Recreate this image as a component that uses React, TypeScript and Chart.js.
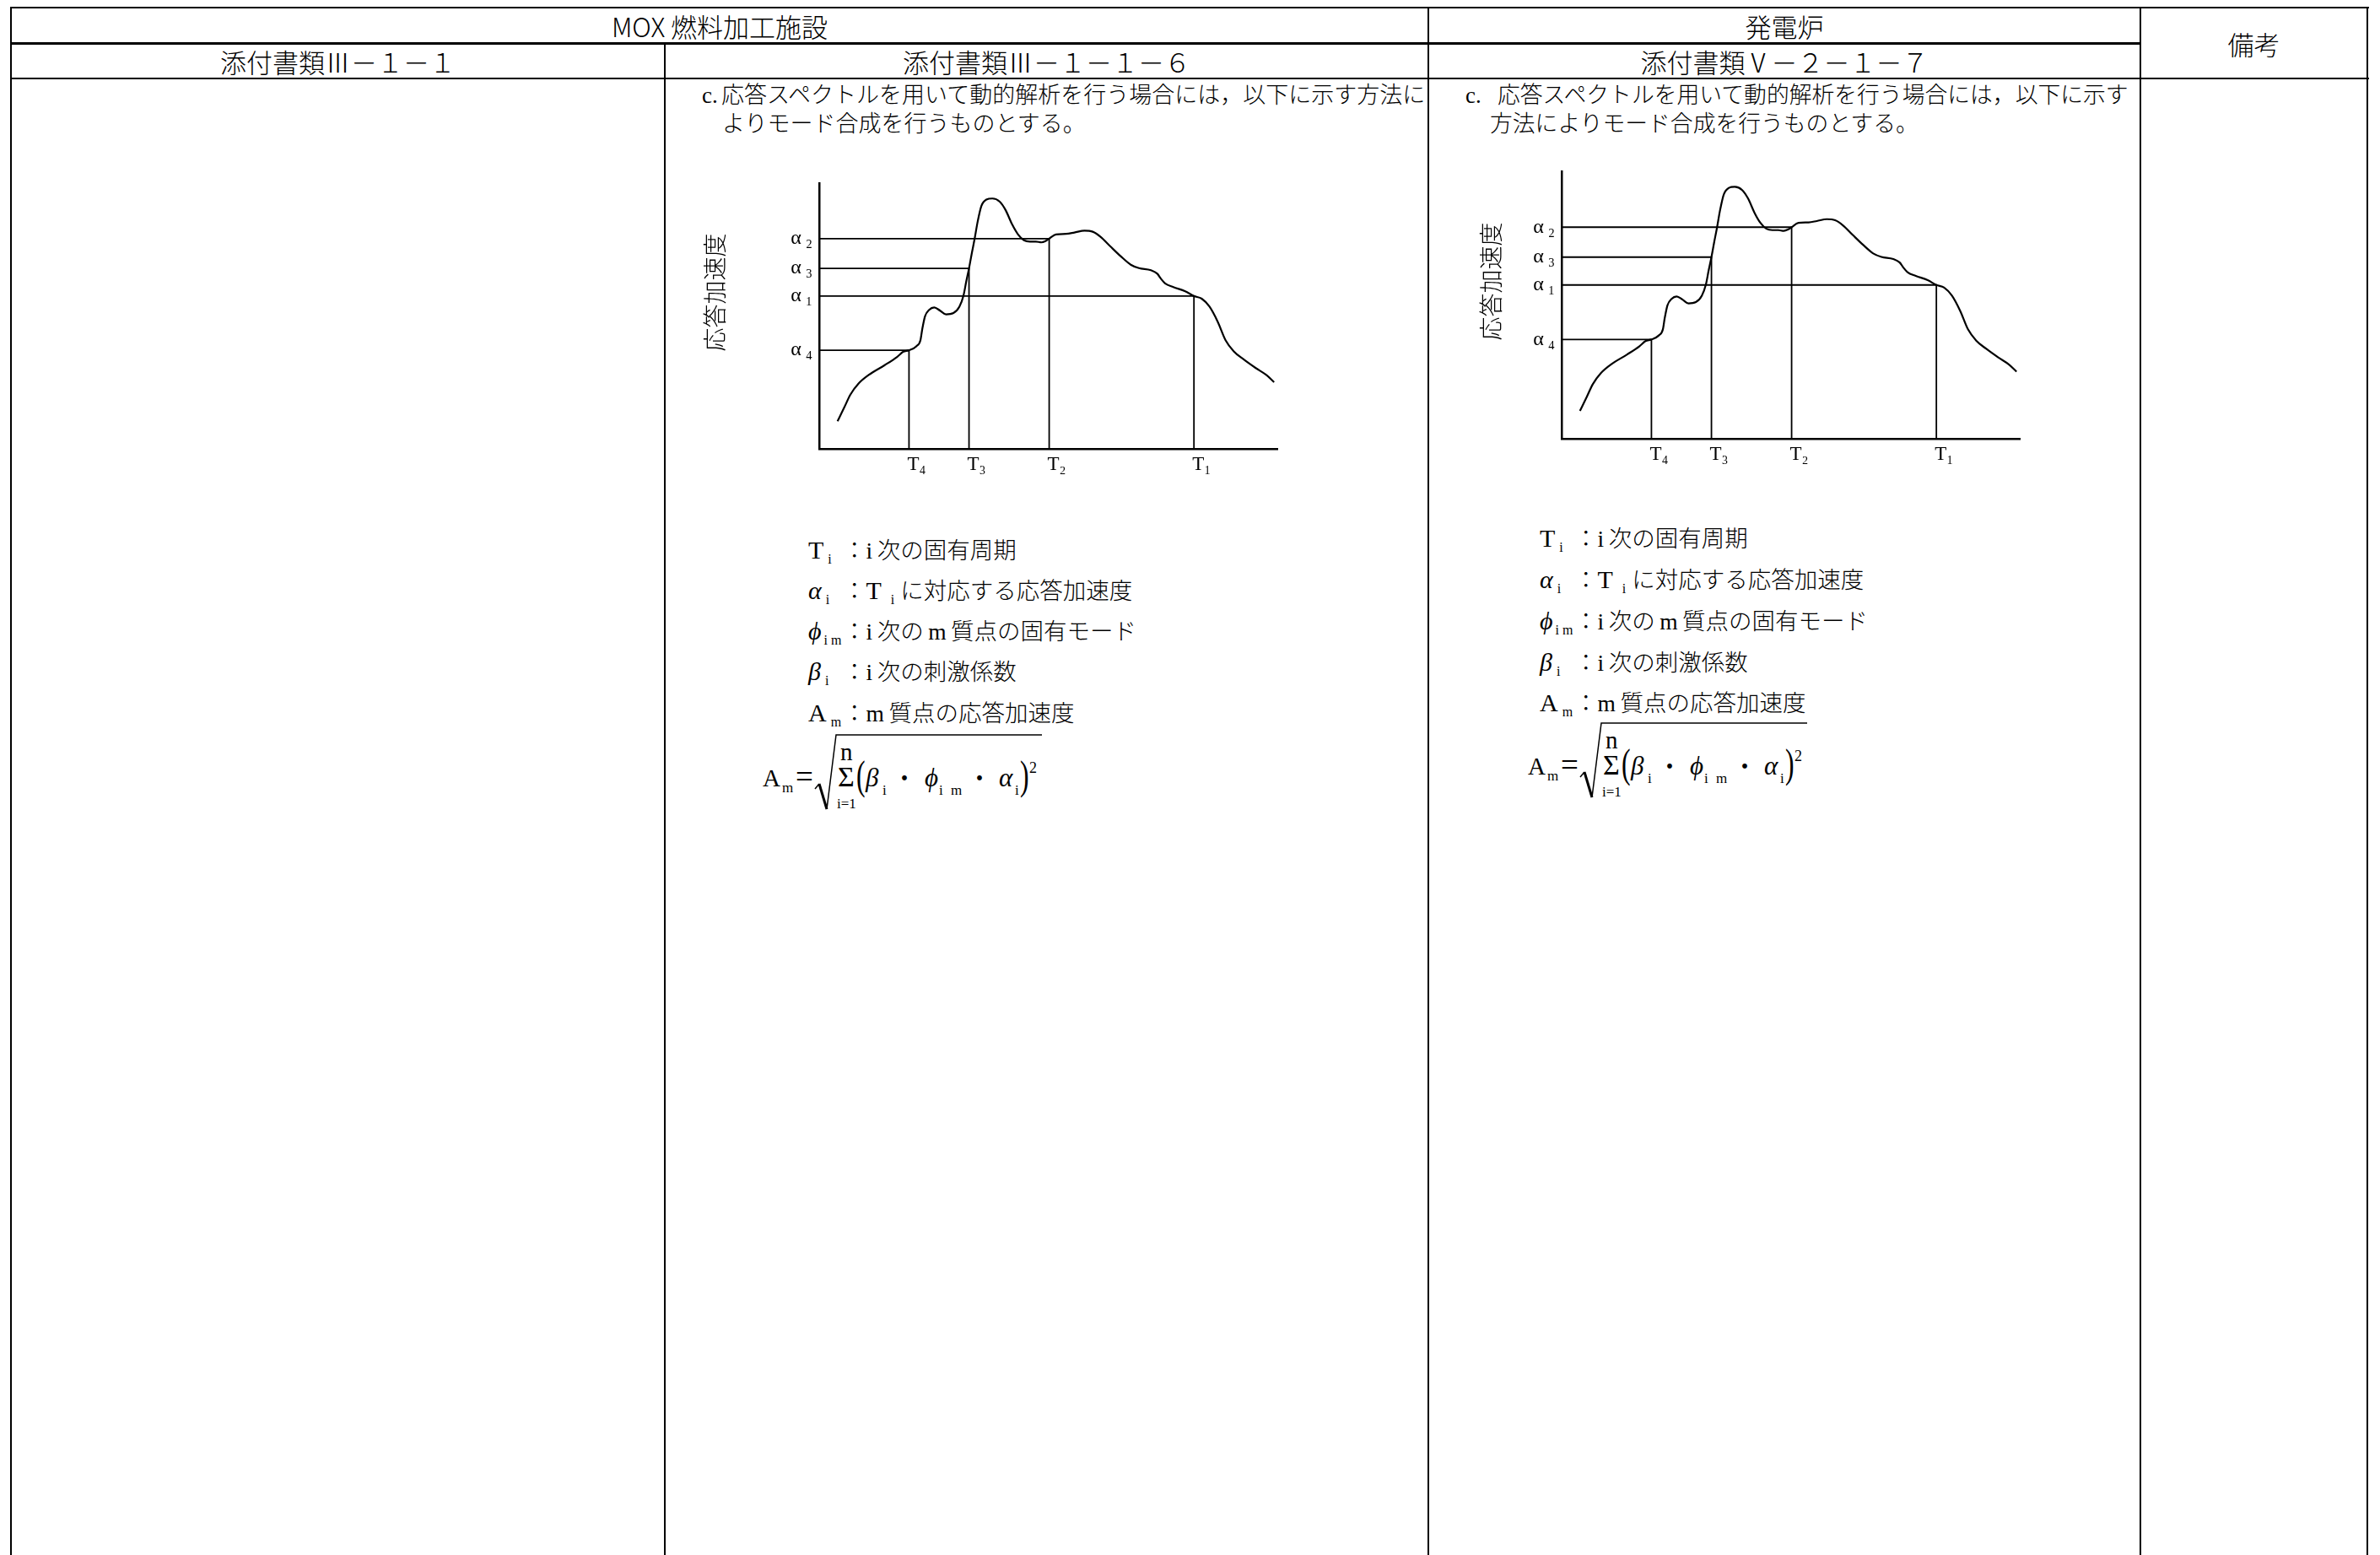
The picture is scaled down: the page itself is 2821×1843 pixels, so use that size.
import React, { useEffect, useRef } from 'react';
import { Chart, registerables } from 'chart.js';

Chart.register(...registerables);

// ---------------- data ----------------
const curvePeriod = [4.0, 5.5, 6.8, 8.6, 10.8, 14.3, 17.0, 18.3, 19.6, 21.2, 22.1, 22.5, 23.1, 24.0, 25.1, 26.4, 27.7, 29.3, 30.6, 31.5, 32.1, 32.7, 33.3, 33.9, 34.6, 35.4, 36.5, 37.8, 39.4, 40.7, 42.1, 43.4, 44.7, 46.0, 47.3, 48.5, 49.4, 50.2, 51.7, 53.9, 55.7, 57.9, 59.7, 61.4, 63.6, 65.8, 68.0, 69.8, 72.4, 73.8, 74.6, 75.5, 77.3, 79.9, 81.8, 83.5, 85.2, 87.0, 88.7, 90.5, 92.7, 95.3, 97.6, 99.3];
const curveAccel = [10.4, 15.7, 20.4, 24.6, 27.8, 31.5, 34.6, 36.5, 37.1, 38.6, 40.9, 45.1, 49.9, 52.3, 53.2, 52.0, 50.6, 51.1, 53.5, 57.7, 63.0, 67.9, 73.5, 78.8, 85.6, 91.4, 93.8, 94.2, 93.0, 89.8, 84.5, 80.7, 78.5, 78.0, 78.0, 77.7, 78.2, 79.1, 80.7, 80.9, 81.4, 82.1, 81.7, 79.8, 76.1, 72.5, 69.3, 68.0, 67.2, 65.9, 64.0, 62.3, 60.9, 59.3, 57.5, 56.5, 53.5, 47.8, 40.9, 36.7, 33.6, 30.4, 27.8, 25.1];
const modeOrder = [1, 2, 3, 4];
const modePeriod = [81.8, 50.2, 32.7, 19.6];
const modeAccel = [57.5, 79.1, 67.9, 37.1];
const subDigits = ['\u2080', '\u2081', '\u2082', '\u2083', '\u2084'];
const periodTickLabels = modeOrder.map((n) => 'T' + subDigits[n]);
const accelTickLabels = modeOrder.map((n) => '\u03b1\u2009' + subDigits[n]);
const yAxisTitle = '応答加速度';

const SERIF = '"Liberation Serif", "DejaVu Serif", serif';
const JP = '"Liberation Serif", "Noto Sans CJK JP", sans-serif';
const JP_HEAD = '"Noto Sans CJK JP", sans-serif';

type Frame = { axisWidth: number; axisHeight: number; padTop: number; padRight: number };

function buildConfig(frame: Frame): any {
  const curve = curvePeriod.map((x, i) => ({ x, y: curveAccel[i] }));
  const guides = modePeriod.map((t, i) => ({
    data: [
      { x: 0, y: modeAccel[i] },
      { x: t, y: modeAccel[i] },
      { x: t, y: 0 },
    ],
    showLine: true,
    borderColor: '#000',
    borderWidth: 1.8,
    pointRadius: 0,
    tension: 0,
    fill: false,
  }));
  return {
    type: 'scatter',
    data: {
      datasets: [
        {
          data: curve,
          showLine: true,
          borderColor: '#000',
          borderWidth: 2.2,
          pointRadius: 0,
          cubicInterpolationMode: 'monotone',
          fill: false,
        },
        ...guides,
      ],
    },
    options: {
      animation: false,
      responsive: false,
      maintainAspectRatio: false,
      events: [],
      layout: { padding: { left: 0, top: frame.padTop, right: frame.padRight, bottom: 0 } },
      plugins: { legend: { display: false }, tooltip: { enabled: false }, title: { display: false } },
      scales: {
        x: {
          type: 'linear',
          min: 0,
          max: 100,
          grid: { display: false },
          border: { display: true, color: '#000', width: 2.5 },
          afterBuildTicks: (s: any) => {
            s.ticks = [...modePeriod].sort((a, b) => a - b).map((v) => ({ value: v }));
          },
          afterFit: (s: any) => {
            s.height = frame.axisHeight;
          },
          ticks: {
            autoSkip: false,
            maxRotation: 0,
            minRotation: 0,
            padding: -3,
            labelOffset: 9,
            color: '#000',
            font: { family: SERIF, size: 23 },
            callback: (v: number) => {
              const i = modePeriod.indexOf(v);
              return i >= 0 ? periodTickLabels[i] : '';
            },
          },
        },
        y: {
          type: 'linear',
          min: 0,
          max: 100,
          grid: { display: false },
          border: { display: true, color: '#000', width: 2.5 },
          afterBuildTicks: (s: any) => {
            s.ticks = [...modeAccel].sort((a, b) => a - b).map((v) => ({ value: v }));
          },
          afterFit: (s: any) => {
            s.width = frame.axisWidth;
          },
          ticks: {
            autoSkip: false,
            padding: 0,
            color: '#000',
            font: { family: SERIF, size: 24 },
            callback: (v: number) => {
              const i = modeAccel.indexOf(v);
              return i >= 0 ? accelTickLabels[i] : '';
            },
          },
          title: {
            display: true,
            text: '\u3000\u3000' + yAxisTitle,
            color: '#000',
            padding: 0,
            font: { family: JP_HEAD, size: 28, weight: 300 },
          },
        },
      },
    },
  };
}

function SpectrumChart(props: { left: number; top: number; width: number; height: number; frame: Frame }) {
  const { left, top, width, height, frame } = props;
  const ref = useRef<HTMLCanvasElement>(null);
  useEffect(() => {
    if (!ref.current) return;
    const chart = new Chart(ref.current, buildConfig(frame));
    return () => chart.destroy();
  }, []);
  return (
    <canvas
      ref={ref}
      width={width}
      height={height}
      style={{ position: 'absolute', left, top, width, height }}
    />
  );
}

// ---------------- document helpers ----------------
const HL = (x1: number, x2: number, y: number, w = 2.5) => (
  <div key={`h${x1}-${y}`} style={{ position: 'absolute', left: x1, top: y - w / 2, width: x2 - x1, height: w, background: '#000' }} />
);
const VL = (x: number, y1: number, y2: number, w = 2) => (
  <div key={`v${x}-${y1}`} style={{ position: 'absolute', left: x - w / 2, top: y1, width: w, height: y2 - y1, background: '#000' }} />
);

function Cell(props: { x1: number; x2: number; y1: number; y2: number; children: any }) {
  const { x1, x2, y1, y2, children } = props;
  return (
    <div
      style={{
        position: 'absolute',
        left: x1,
        top: y1,
        width: x2 - x1,
        height: y2 - y1,
        display: 'flex',
        alignItems: 'center',
        justifyContent: 'center',
        fontFamily: JP_HEAD,
        fontWeight: 300,
        fontSize: 31,
        whiteSpace: 'nowrap',
      }}
    >
      {children}
    </div>
  );
}

function Line(props: { x: number; cy: number; size?: number; children: any }) {
  const { x, cy, size = 27.5, children } = props;
  return (
    <div
      style={{
        position: 'absolute',
        left: x,
        top: cy - 20,
        height: 40,
        lineHeight: '40px',
        fontSize: size,
        fontFamily: JP,
        fontWeight: 300,
        whiteSpace: 'nowrap',
      }}
    >
      {children}
    </div>
  );
}

const Sub = (p: { children: any; ml?: number; mr?: number }) => (
  <span style={{ fontSize: 16, position: 'relative', top: 6, marginLeft: p.ml ?? 5, marginRight: p.mr ?? 0, fontFamily: SERIF, fontStyle: 'normal' }}>
    {p.children}
  </span>
);
const Big = (p: { children: any; italic?: boolean }) => (
  <span style={{ fontFamily: SERIF, fontSize: 30, fontStyle: p.italic ? 'italic' : 'normal' }}>{p.children}</span>
);
const Sym = (p: { children: any }) => <span style={{ display: 'inline-block', width: 41 }}>{p.children}</span>;

function Definitions(props: { x: number; cys: number[] }) {
  const { x, cys } = props;
  const ts = '\u2009';
  const rows = [
    <>
      <Sym><Big>T</Big><Sub>i</Sub></Sym>：i{ts}次の固有周期
    </>,
    <>
      <Sym><Big italic>α</Big><Sub>i</Sub></Sym>：<Big>T</Big><Sub ml={11} mr={7}>i</Sub>に対応する応答加速度
    </>,
    <>
      <Sym><Big italic>ϕ</Big><Sub ml={3}>i m</Sub></Sym>：i{ts}次の{ts}m{ts}質点の固有モード
    </>,
    <>
      <Sym><Big italic>β</Big><Sub>i</Sub></Sym>：i{ts}次の刺激係数
    </>,
    <>
      <Sym><Big>A</Big><Sub>m</Sub></Sym>：m{ts}質点の応答加速度
    </>,
  ];
  return (
    <>
      {rows.map((r, i) => (
        <Line key={i} x={x} cy={cys[i]}>
          {r}
        </Line>
      ))}
    </>
  );
}

function Formula(props: { x: number; y: number }) {
  const ox = 20;
  const oy = 20;
  const { x, y } = props;
  const t = { fontFamily: SERIF, fill: '#000' } as any;
  return (
    <svg style={{ position: 'absolute', left: x - ox, top: y - oy }} width={380} height={130}>
      <g transform={`translate(${ox},${oy})`}>
        <text {...t} x={-1} y={61} fontSize={29}>A</text>
        <text {...t} x={22} y={68} fontSize={17}>m</text>
        <text {...t} x={38} y={62} fontSize={37}>=</text>
        <path d="M61 64 L66 58" stroke="#000" strokeWidth={1.5} fill="none" />
        <path d="M66 58 L75 88" stroke="#000" strokeWidth={3} fill="none" />
        <path d="M75 88 L86 0 L330 0" stroke="#000" strokeWidth={1.5} fill="none" />
        <text {...t} x={88} y={61} fontSize={34}>Σ</text>
        <text {...t} x={91} y={30} fontSize={29}>n</text>
        <text {...t} x={87} y={87} fontSize={17}>i=1</text>
        <text {...t} fontSize={48} transform="translate(110,64) scale(0.66,1)">(</text>
        <text {...t} x={121} y={61} fontSize={31} fontStyle="italic">β</text>
        <text {...t} x={141} y={71} fontSize={17}>i</text>
        <text x={167} y={61} fontSize={27} textAnchor="middle" fontFamily={JP_HEAD} fill="#000">・</text>
        <text {...t} x={191} y={61} fontSize={31} fontStyle="italic">ϕ</text>
        <text {...t} x={208} y={71} fontSize={17}>i</text>
        <text {...t} x={222} y={71} fontSize={17}>m</text>
        <text x={256} y={61} fontSize={27} textAnchor="middle" fontFamily={JP_HEAD} fill="#000">・</text>
        <text {...t} x={279} y={61} fontSize={31} fontStyle="italic">α</text>
        <text {...t} x={298} y={71} fontSize={17}>i</text>
        <text {...t} fontSize={48} transform="translate(304,64) scale(0.66,1)">)</text>
        <text {...t} x={315} y={45} fontSize={18}>2</text>
      </g>
    </svg>
  );
}

export default function App() {
  return (
    <div
      style={{
        position: 'absolute',
        left: 0,
        top: 0,
        width: 2821,
        height: 1843,
        overflow: 'hidden',
        background: '#fff',
        color: '#000',
      }}
    >
      {/* table rules */}
      {HL(12, 2808, 9)}
      {HL(12, 2537, 51.5)}
      {HL(12, 2808, 93)}
      {VL(13, 8, 1843)}
      {VL(788, 51, 1843, 2.5)}
      {VL(1693, 8, 1843)}
      {VL(2537, 8, 1843)}
      {VL(2806, 8, 1843)}

      {/* header cells */}
      <Cell x1={13} x2={1693} y1={9} y2={52}>MOX 燃料加工施設</Cell>
      <Cell x1={1693} x2={2537} y1={9} y2={52}>発電炉</Cell>
      <Cell x1={2537} x2={2806} y1={9} y2={93}>備考</Cell>
      <Cell x1={13} x2={788} y1={52} y2={93}>添付書類Ⅲ－１－１</Cell>
      <Cell x1={788} x2={1693} y1={52} y2={93}>添付書類Ⅲ－１－１－６</Cell>
      <Cell x1={1693} x2={2537} y1={52} y2={93}>添付書類Ⅴ－２－１－７</Cell>

      {/* paragraph, column 2 */}
      <Line x={832} cy={113} size={27}>
        <span style={{ display: 'inline-block', width: 23 }}>c.</span>応答スペクトルを用いて動的解析を行う場合には，以下に示す方法に
      </Line>
      <Line x={856} cy={147} size={27}>よりモード合成を行うものとする。</Line>

      {/* paragraph, column 3 */}
      <Line x={1737} cy={113} size={26.8}>
        <span style={{ display: 'inline-block', width: 38 }}>c.</span>応答スペクトルを用いて動的解析を行う場合には，以下に示す
      </Line>
      <Line x={1766} cy={147} size={26.8}>方法によりモード合成を行うものとする。</Line>

      {/* charts */}
      <SpectrumChart left={831} top={190} width={720} height={400} frame={{ axisWidth: 140, axisHeight: 58, padTop: 27, padRight: 37 }} />
      <SpectrumChart left={1751} top={176} width={700} height={400} frame={{ axisWidth: 100, axisHeight: 56, padTop: 27, padRight: 57 }} />

      {/* definitions */}
      <Definitions x={958} cys={[652, 700, 748, 796, 845]} />
      <Definitions x={1825} cys={[638, 687, 736, 785, 833]} />

      {/* formulas */}
      <Formula x={905} y={871} />
      <Formula x={1812} y={857} />
    </div>
  );
}
